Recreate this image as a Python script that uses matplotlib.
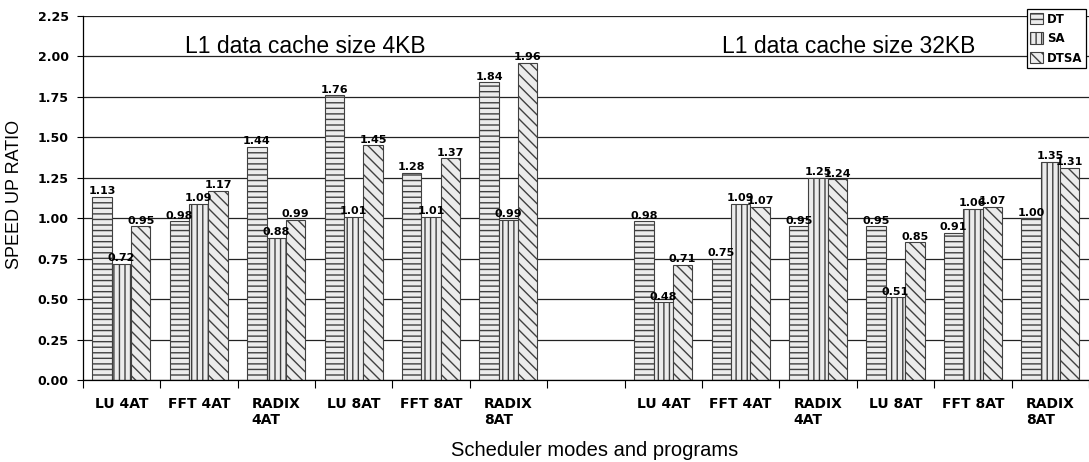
import matplotlib
matplotlib.use("Agg")
import matplotlib.pyplot as plt
import numpy as np

programs = ["LU 4AT", "FFT 4AT", "RADIX\n4AT", "LU 8AT", "FFT 8AT", "RADIX\n8AT"]
dt_4kb = [1.13, 0.98, 1.44, 1.76, 1.28, 1.84]
sa_4kb = [0.72, 1.09, 0.88, 1.01, 1.01, 0.99]
dtsa_4kb = [0.95, 1.17, 0.99, 1.45, 1.37, 1.96]
dt_32kb = [0.98, 0.75, 0.95, 0.95, 0.91, 1.00]
sa_32kb = [0.48, 1.09, 1.25, 0.51, 1.06, 1.35]
dtsa_32kb = [0.71, 1.07, 1.24, 0.85, 1.07, 1.31]

# 4KB groups in slots 0-5, one empty slot, 32KB groups in slots 7-12
slots = np.concatenate([np.arange(6), np.arange(7, 13)])
labels = programs + programs

series = [
    ("DT", dt_4kb + dt_32kb, "---", -0.25),
    ("SA", sa_4kb + sa_32kb, "|||", 0.0),
    ("DTSA", dtsa_4kb + dtsa_32kb, "\\\\\\", 0.25),
]

fig = plt.figure(figsize=(10.89, 4.62), dpi=100)
ax = fig.add_axes([82.7 / 1089, 1 - 380 / 462, 1 - 82.7 / 1089, (380 - 16) / 462])

for name, vals, hatch, off in series:
    bars = ax.bar(slots + off, vals, width=0.25, facecolor="#ececec",
                  edgecolor="#404040", linewidth=0.8, hatch=hatch, label=name)
    ax.bar_label(bars, fmt="%.2f", padding=0.5, fontsize=8, fontweight="bold")

ax.set_xlim(-0.5, 12.5)
ax.set_ylim(0, 2.25)
ax.set_yticks(np.arange(0, 2.26, 0.25))
ax.set_yticklabels([f"{v:.2f}" for v in np.arange(0, 2.26, 0.25)],
                   fontsize=9, fontweight="bold")
ax.tick_params(axis="y", direction="out", length=4.5, width=0.8, pad=5.5)
ax.yaxis.grid(True, color="#222222", linewidth=0.9)
ax.set_axisbelow(True)

# group separators as major ticks, names as minor ticks
ax.set_xticks(np.arange(-0.5, 12.6, 1.0))
ax.set_xticklabels([])
ax.set_xticks(slots, minor=True)
ax.set_xticklabels(labels, minor=True, fontsize=10, fontweight="bold")
ax.tick_params(axis="x", which="major", direction="out", length=5.5, width=0.8)
ax.tick_params(axis="x", which="minor", length=0, pad=12)
for t in ax.get_xticklabels(minor=True):
    t.set_multialignment("left")

ax.spines["top"].set_visible(False)
ax.spines["right"].set_visible(False)
ax.spines["left"].set_linewidth(0.9)
ax.spines["bottom"].set_linewidth(0.9)

ax.text(0.82, 2.02, "L1 data cache size 4KB", fontsize=16.5,
        family="Liberation Sans", va="baseline")
ax.text(7.76, 2.02, "L1 data cache size 32KB", fontsize=16.5,
        family="Liberation Sans", va="baseline")

fig.text(595 / 1089, 6 / 462, "Scheduler modes and programs", fontsize=14.5,
         family="Liberation Sans", ha="center", va="baseline")
fig.text(15 / 1089, 1 - 194 / 462, "SPEED UP RATIO", fontsize=13,
         family="Liberation Sans", rotation=90, ha="center", va="center")

leg = ax.legend(loc="upper right", bbox_to_anchor=(1086 / 1089, 1 - 9 / 462),
                bbox_transform=fig.transFigure, borderaxespad=0, fancybox=False,
                edgecolor="black", framealpha=1, prop={"size": 8.5, "weight": "bold"},
                handlelength=1.1, handleheight=1.1, handletextpad=0.3,
                labelspacing=0.55, borderpad=0.3)
leg.get_frame().set_linewidth(0.9)

fig.savefig("out.png", dpi=100)
